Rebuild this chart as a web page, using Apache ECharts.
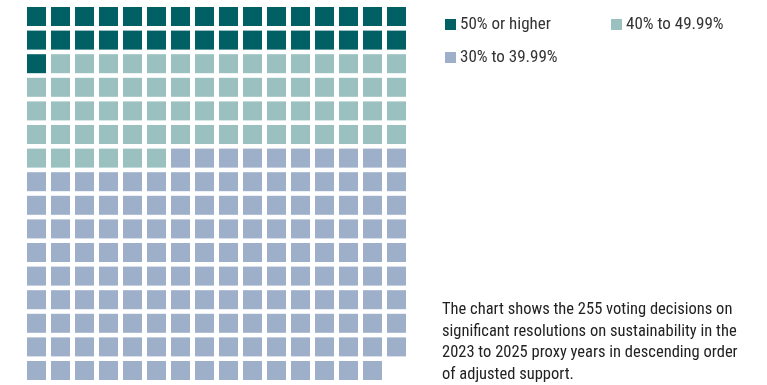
<!DOCTYPE html>
<html>
<head>
<meta charset="utf-8">
<script src="https://cdn.jsdelivr.net/npm/echarts@6/dist/echarts.min.js"></script>
<style>
  html, body { margin: 0; padding: 0; background: #fff; }
  #chart { width: 767px; height: 385px; }
</style>
</head>
<body>
<div id="chart"></div>
<script>
// Support bands and number of voting decisions in each
const categories = ['50% or higher', '40% to 49.99%', '30% to 39.99%'];
const counts = [33, 69, 153];
const colors = ['#006063', '#9ac0c0', '#9dafc9'];
const columns = 16;
const noteLines = [
  'The chart shows the 255 voting decisions on',
  'significant resolutions on sustainability in the',
  '2023 to 2025 proxy years in descending order',
  'of adjusted support.'
];

const FONT = "'Liberation Sans Narrow', 'Roboto Condensed', 'Arial Narrow', 'DejaVu Sans Condensed', sans-serif";

// Lay out decisions one after another, row by row
let idx = 0;
const series = categories.map((name, i) => {
  const cells = [];
  for (let k = 0; k < counts[i]; k++, idx++) {
    cells.push([idx % columns, Math.floor(idx / columns)]);
  }
  return {
    name,
    type: 'scatter',
    symbol: 'rect',
    symbolSize: 19,
    itemStyle: { color: colors[i], opacity: 1 },
    emphasis: { disabled: true },
    data: cells,
    animation: false
  };
});
const rows = Math.ceil(idx / columns);

const legendPos = [
  { left: 445, top: 16 },
  { left: 611, top: 16 },
  { left: 445, top: 49 }
];

const chart = echarts.init(document.getElementById('chart'), null, { renderer: 'canvas' });
chart.setOption({
  animation: false,
  grid: { left: 36.5, top: 16.5, width: 360, height: 354 },
  xAxis: { type: 'value', min: 0, max: columns - 1, show: false },
  yAxis: { type: 'value', min: 0, max: rows - 1, inverse: true, show: false },
  legend: categories.map((name, i) => ({
    data: [name],
    left: legendPos[i].left,
    top: legendPos[i].top,
    padding: 0,
    itemWidth: 11,
    itemHeight: 11,
    itemGap: 0,
    icon: 'rect',
    selectedMode: false,
    textStyle: { fontFamily: FONT, fontSize: 17, color: '#333', padding: [0, 0, 0, -1] }
  })),
  graphic: [{
    type: 'text',
    left: 442,
    top: 299,
    style: {
      text: noteLines.join('\n'),
      font: '16.5px ' + FONT,
      fill: '#222',
      lineHeight: 21.7
    }
  }],
  series
});
</script>
</body>
</html>
